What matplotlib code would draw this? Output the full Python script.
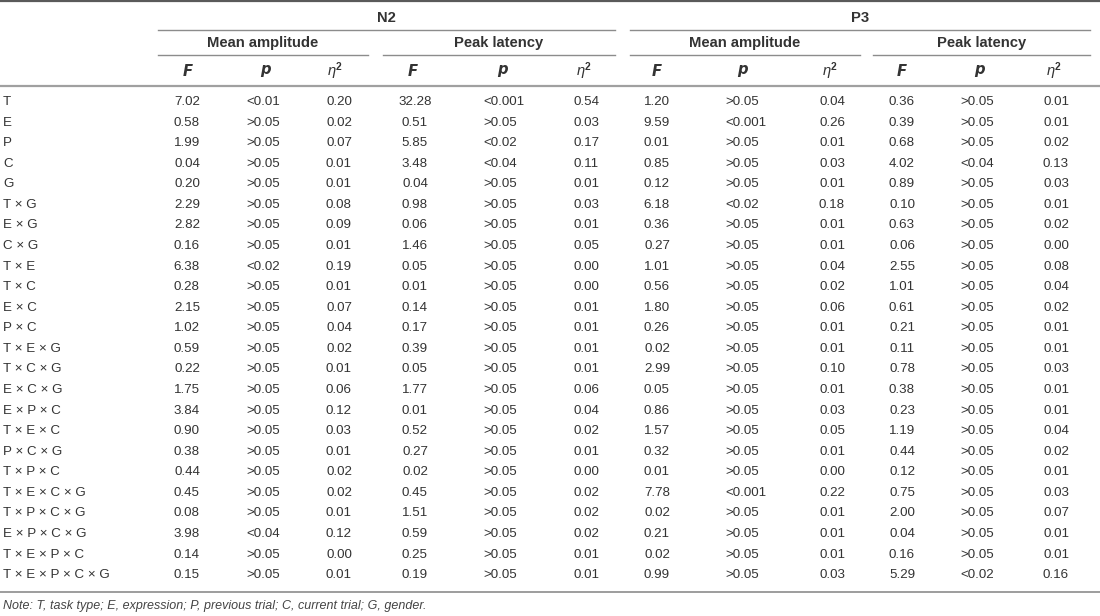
import matplotlib
matplotlib.use("Agg")
import matplotlib.pyplot as plt

plt.rcParams['font.family'] = ['Liberation Sans', 'DejaVu Sans']
plt.rcParams['mathtext.fontset'] = 'custom'
plt.rcParams['mathtext.rm'] = 'Liberation Sans'
plt.rcParams['mathtext.it'] = 'Liberation Sans:italic'
plt.rcParams['mathtext.bf'] = 'Liberation Sans:bold'

# table content
effects = ['T', 'E', 'P', 'C', 'G', 'T × G', 'E × G', 'C × G', 'T × E', 'T × C',
           'E × C', 'P × C', 'T × E × G', 'T × C × G', 'E × C × G', 'E × P × C',
           'T × E × C', 'P × C × G', 'T × P × C', 'T × E × C × G', 'T × P × C × G',
           'E × P × C × G', 'T × E × P × C', 'T × E × P × C × G']

n2_amp_F = ['7.02', '0.58', '1.99', '0.04', '0.20', '2.29', '2.82', '0.16', '6.38', '0.28',
            '2.15', '1.02', '0.59', '0.22', '1.75', '3.84', '0.90', '0.38', '0.44', '0.45',
            '0.08', '3.98', '0.14', '0.15']
n2_amp_p = ['<0.01', '>0.05', '>0.05', '>0.05', '>0.05', '>0.05', '>0.05', '>0.05', '<0.02',
            '>0.05', '>0.05', '>0.05', '>0.05', '>0.05', '>0.05', '>0.05', '>0.05', '>0.05',
            '>0.05', '>0.05', '>0.05', '<0.04', '>0.05', '>0.05']
n2_amp_eta = ['0.20', '0.02', '0.07', '0.01', '0.01', '0.08', '0.09', '0.01', '0.19', '0.01',
              '0.07', '0.04', '0.02', '0.01', '0.06', '0.12', '0.03', '0.01', '0.02', '0.02',
              '0.01', '0.12', '0.00', '0.01']
n2_lat_F = ['32.28', '0.51', '5.85', '3.48', '0.04', '0.98', '0.06', '1.46', '0.05', '0.01',
            '0.14', '0.17', '0.39', '0.05', '1.77', '0.01', '0.52', '0.27', '0.02', '0.45',
            '1.51', '0.59', '0.25', '0.19']
n2_lat_p = ['<0.001', '>0.05', '<0.02', '<0.04', '>0.05', '>0.05', '>0.05', '>0.05', '>0.05',
            '>0.05', '>0.05', '>0.05', '>0.05', '>0.05', '>0.05', '>0.05', '>0.05', '>0.05',
            '>0.05', '>0.05', '>0.05', '>0.05', '>0.05', '>0.05']
n2_lat_eta = ['0.54', '0.03', '0.17', '0.11', '0.01', '0.03', '0.01', '0.05', '0.00', '0.00',
              '0.01', '0.01', '0.01', '0.01', '0.06', '0.04', '0.02', '0.01', '0.00', '0.02',
              '0.02', '0.02', '0.01', '0.01']
p3_amp_F = ['1.20', '9.59', '0.01', '0.85', '0.12', '6.18', '0.36', '0.27', '1.01', '0.56',
            '1.80', '0.26', '0.02', '2.99', '0.05', '0.86', '1.57', '0.32', '0.01', '7.78',
            '0.02', '0.21', '0.02', '0.99']
p3_amp_p = ['>0.05', '<0.001', '>0.05', '>0.05', '>0.05', '<0.02', '>0.05', '>0.05', '>0.05',
            '>0.05', '>0.05', '>0.05', '>0.05', '>0.05', '>0.05', '>0.05', '>0.05', '>0.05',
            '>0.05', '<0.001', '>0.05', '>0.05', '>0.05', '>0.05']
p3_amp_eta = ['0.04', '0.26', '0.01', '0.03', '0.01', '0.18', '0.01', '0.01', '0.04', '0.02',
              '0.06', '0.01', '0.01', '0.10', '0.01', '0.03', '0.05', '0.01', '0.00', '0.22',
              '0.01', '0.01', '0.01', '0.03']
p3_lat_F = ['0.36', '0.39', '0.68', '4.02', '0.89', '0.10', '0.63', '0.06', '2.55', '1.01',
            '0.61', '0.21', '0.11', '0.78', '0.38', '0.23', '1.19', '0.44', '0.12', '0.75',
            '2.00', '0.04', '0.16', '5.29']
p3_lat_p = ['>0.05', '>0.05', '>0.05', '<0.04', '>0.05', '>0.05', '>0.05', '>0.05', '>0.05',
            '>0.05', '>0.05', '>0.05', '>0.05', '>0.05', '>0.05', '>0.05', '>0.05', '>0.05',
            '>0.05', '>0.05', '>0.05', '>0.05', '>0.05', '<0.02']
p3_lat_eta = ['0.01', '0.01', '0.02', '0.13', '0.03', '0.01', '0.02', '0.00', '0.08', '0.04',
              '0.02', '0.01', '0.01', '0.03', '0.01', '0.01', '0.04', '0.02', '0.01', '0.03',
              '0.07', '0.01', '0.01', '0.16']

components = ['N2', 'P3']
measures = ['Mean amplitude', 'Peak latency']
stat_labels = [r'$\mathbfit{F}$', r'$\mathbfit{p}$', r'$\mathit{\eta}^{\mathbf{2}}$']
note = 'Note: T, task type; E, expression; P, previous trial; C, current trial; G, gender.'

columns = [n2_amp_F, n2_amp_p, n2_amp_eta, n2_lat_F, n2_lat_p, n2_lat_eta,
           p3_amp_F, p3_amp_p, p3_amp_eta, p3_lat_F, p3_lat_p, p3_lat_eta]

# layout in pixels (figure is 1100 x 616)
W, H = 1100, 616
head_x = [188, 266, 335, 413, 503, 584, 657, 743, 830, 902, 980, 1054]
# F and eta columns are centred, p columns start at a fixed left edge
val_x = [187, 246, 339, 415, 483, 586, 657, 725, 832, 902, 960, 1056]
val_ha = ['center', 'left', 'center'] * 4
comp_span = [(158, 615), (630, 1090)]
meas_span = [(158, 368), (383, 615), (630, 860), (873, 1090)]
y_comp, y_comp_line = 18.5, 29.5
y_meas, y_meas_line = 43.5, 55
y_stat, y_stat_line = 71, 85.5
row_y0, row_dy = 102, 20.57
y_bottom, y_note = 592, 606

TXT = '#333333'
LINE = '#8c8c8c'
FS = 9.6
HFS = 10.6

fig = plt.figure(figsize=(W / 100, H / 100), dpi=100)
ax = fig.add_axes([0, 0, 1, 1])
ax.set_xlim(0, W)
ax.set_ylim(H, 0)
ax.axis('off')

# rules
ax.plot([0, W], [1.2, 1.2], color='#5a5a5a', lw=1.6)
for x0, x1 in comp_span:
    ax.plot([x0, x1], [y_comp_line, y_comp_line], color=LINE, lw=1.0)
for x0, x1 in meas_span:
    ax.plot([x0, x1], [y_meas_line, y_meas_line], color=LINE, lw=1.0)
ax.plot([0, W], [y_stat_line, y_stat_line], color='#a0a0a0', lw=1.6)
ax.plot([0, W], [y_bottom, y_bottom], color=LINE, lw=1.2)

# header
for (x0, x1), name in zip(comp_span, components):
    ax.text((x0 + x1) / 2, y_comp, name, ha='center', va='center',
            fontsize=HFS, fontweight='bold', color=TXT)
for i, (x0, x1) in enumerate(meas_span):
    ax.text((x0 + x1) / 2, y_meas, measures[i % 2], ha='center', va='center',
            fontsize=HFS, fontweight='bold', color=TXT)
for i, x in enumerate(head_x):
    ax.text(x, y_stat, stat_labels[i % 3], ha='center', va='center',
            fontsize=HFS, color=TXT)

# body
for r, name in enumerate(effects):
    y = row_y0 + r * row_dy
    ax.text(3, y, name, ha='left', va='center', fontsize=FS, color=TXT)
    for x, ha, col in zip(val_x, val_ha, columns):
        ax.text(x, y, col[r], ha=ha, va='center', fontsize=FS, color=TXT)

ax.text(3, y_note, note, ha='left', va='center', fontsize=FS - 0.6,
        style='italic', color='#444444')

fig.savefig('out.png', dpi=100)
